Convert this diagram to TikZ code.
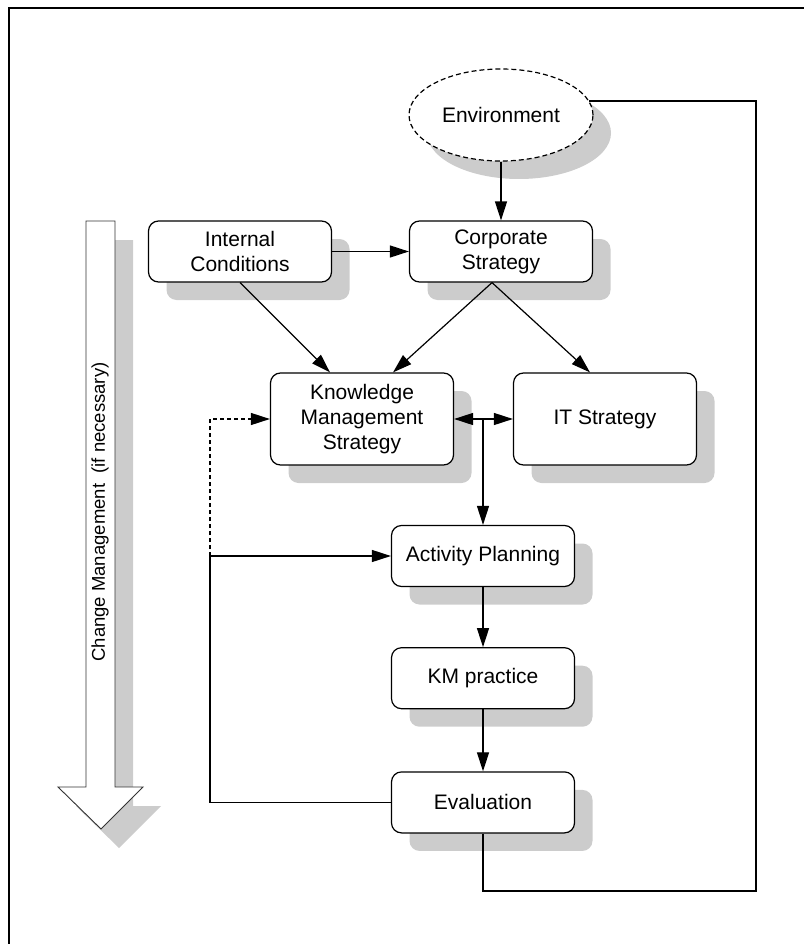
\documentclass[tikz,border=0pt]{standalone}
\usepackage{fontspec}
\setmainfont{Liberation Sans}
\usepackage{tikz}
\usetikzlibrary{arrows.meta, positioning, shapes.geometric, shadows}
\definecolor{shadowgray}{RGB}{204, 204, 204}
\newcommand{\boxfont}{\fontsize{21}{25}\selectfont}
\newcommand{\sidefont}{\fontsize{18.5}{22}\selectfont}

\begin{document}
\begin{tikzpicture}[x=1pt, y=-1pt, line width=1.2pt, >={Triangle[length=19pt, width=12pt]},
    boxshadow/.style={general shadow={fill=shadowgray, shadow xshift=18pt, shadow yshift=-18pt}},
    stepbox/.style={rectangle, draw, rounded corners=10pt, fill=white, align=center, font=\boxfont, inner sep=2pt, minimum width=183pt, minimum height=61pt, boxshadow},
    tallbox/.style={stepbox, minimum height=92pt}]
    \useasboundingbox (0,0) rectangle (803,944);
    \draw[line width=1.5pt] (9,8) rectangle (830,960);

    % 变革管理
    \fill[shadowgray] (104,240) -- (133,240) -- (133,806) -- (161,806) -- (119,848) -- (76,806) -- (104,806) -- cycle;
    \draw[fill=white, draw=black!80, line width=0.9pt] (86,221) -- (115,221) -- (115,787) -- (143,787) -- (101,829) -- (58,787) -- (86,787) -- cycle;
    \node[rotate=90, font=\sidefont] (cm) at (100,512) {Change Management\ \ (if necessary)};

    % 环境
    \node[ellipse, draw, dash pattern=on 5pt off 3pt, fill=white, font=\boxfont, minimum width=184pt, minimum height=92pt, boxshadow] (env) at (501,115) {Environment};

    % 战略
    \node[stepbox] (ic) at (240,251.5) {Internal\\Conditions};
    \node[stepbox] (corp) at (501,251.5) {Corporate\\Strategy};
    \node[tallbox] (kms) at (362,419) {Knowledge\\Management\\Strategy};
    \node[tallbox] (it) at (605,419) {IT Strategy};
    \draw[->] (env) -- (corp);
    \draw[->] (ic) -- (corp);
    \draw[->] (ic.south) -- ([xshift=-32pt]kms.north);
    \draw[->] ([xshift=-9pt]corp.south) -- ([xshift=31pt]kms.north);
    \draw[->] ([xshift=-9pt]corp.south) -- ([xshift=-15pt]it.north);
    \draw[<->] (kms) -- (it);

    % 实施
    \node[stepbox] (ap) at (483,556) {Activity Planning};
    \node[stepbox, below=60pt of ap] (km) {KM practice};
    \node[stepbox, below=62pt of km] (ev) {Evaluation};
    \coordinate (split) at (ap.north |- kms.east);
    \draw[->] (split) -- (ap);
    \draw[->] (ap) -- (km);
    \draw[->] (km) -- (ev);

    % 反馈
    \coordinate (back) at (210,556);
    \draw[->] (ev.west) -| (back) -- (ap.west);
    \draw[->, dash pattern=on 4pt off 3pt] (back) |- (kms.west);
    \coordinate (outer) at (756,891);
    \draw (ev.south) |- (outer) |- (env.9);
\end{tikzpicture}
\end{document}
